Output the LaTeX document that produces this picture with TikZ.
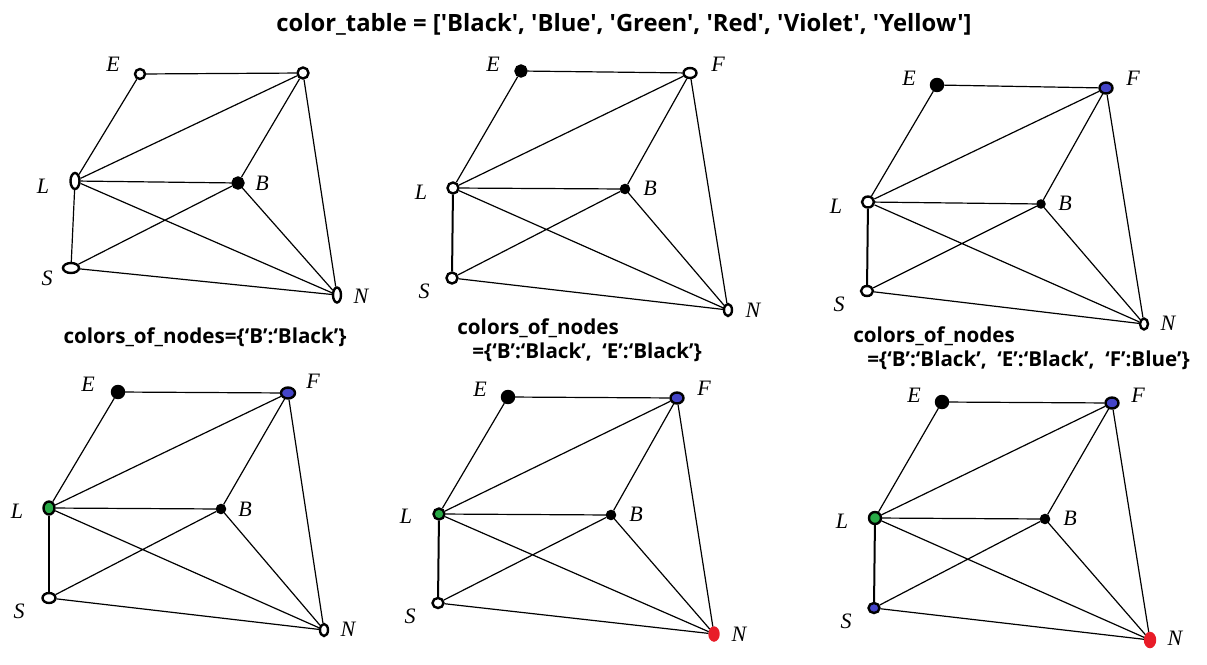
\documentclass[tikz,border=0pt]{standalone}
\usepackage{fontspec}
\newfontfamily\capfont{Open Sans}[Ligatures=TeXOff]
\newfontfamily\lblfont{Liberation Serif}
\usepackage{tikz}
\usetikzlibrary{shapes.geometric}
\definecolor{vblue}{RGB}{68,68,200}
\definecolor{vgreen}{RGB}{40,170,70}
\definecolor{vred}{RGB}{232,28,40}
\tikzset{vtx/.style={ellipse,draw,line width=1.2pt,inner sep=0pt,fill=white},
	sz/.style 2 args={minimum width=#1pt,minimum height=#2pt},
	lbl/.style={font=\lblfont\itshape\fontsize{11}{11}\selectfont},
	captxt/.style={font=\capfont\bfseries\fontsize{10.3}{12}\selectfont,inner sep=0pt}}
\begin{document}
\begin{tikzpicture}[x=0.5pt,y=-0.5pt]
\useasboundingbox (0,0) rectangle (1207,665);

\node (title) at (624,24)[captxt,font=\capfont\bfseries\fontsize{11.9}{13}\selectfont] {color\_table = ['Black', 'Blue', 'Green', 'Red', 'Violet', 'Yellow']};

% graph 1
\node (e1) at (140,74)[vtx,sz={5}{5}] {};
\node (f1) at (303,73)[vtx,sz={5.5}{5.5}] {};
\node (l1) at (75,181)[vtx,sz={4.5}{8}] {};
\node (b1) at (238,183)[vtx,fill=black,sz={5.5}{5.5}] {};
\node (s1) at (71,268)[vtx,sz={8}{5}] {};
\node (n1) at (337,295)[vtx,sz={4}{7.5}] {};
\node (le1) at (113,64)[lbl] {E};
\node (ll1) at (43,186)[lbl] {L};
\node (lb1) at (262,183)[lbl] {B};
\node (ls1) at (47,278)[lbl] {S};
\node (ln1) at (361,296)[lbl] {N};

% graph 2
\node (e2) at (521,71)[vtx,fill=black,sz={5.5}{5.5}] {};
\node (f2) at (690,73)[vtx,sz={6.5}{5}] {};
\node (l2) at (453,188)[vtx,sz={5.5}{5.5}] {};
\node (b2) at (625,189)[vtx,fill=black,sz={4}{4}] {};
\node (s2) at (452,278)[vtx,sz={5.5}{5.5}] {};
\node (n2) at (728,310)[vtx,sz={4}{6}] {};
\node (le2) at (493,64)[lbl] {E};
\node (lf2) at (718,64)[lbl] {F};
\node (ll2) at (421,192)[lbl] {L};
\node (lb2) at (650,188)[lbl] {B};
\node (ls2) at (424,291)[lbl] {S};
\node (ln2) at (753,310)[lbl] {N};

% graph 3
\node (e3) at (937,85)[vtx,fill=black,sz={6}{6}] {};
\node (f3) at (1106,88)[vtx,fill=vblue,sz={6.5}{5.5}] {};
\node (l3) at (868,202)[vtx,sz={6}{5.5}] {};
\node (b3) at (1041,204)[vtx,fill=black,sz={3.5}{3.5}] {};
\node (s3) at (867,291)[vtx,sz={6}{5}] {};
\node (n3) at (1144,324)[vtx,sz={4}{5.5}] {};
\node (le3) at (909,78)[lbl] {E};
\node (lf3) at (1133,78)[lbl] {F};
\node (ll3) at (836,206)[lbl] {L};
\node (lb3) at (1065,203)[lbl] {B};
\node (ls3) at (839,304)[lbl] {S};
\node (ln3) at (1168,323)[lbl] {N};

% graph 4
\node (e4) at (118,392)[vtx,fill=black,sz={6}{6}] {};
\node (f4) at (288,393)[vtx,fill=vblue,sz={7}{5.5}] {};
\node (l4) at (49,508)[vtx,fill=vgreen,sz={5.5}{6.5}] {};
\node (b4) at (221,509)[vtx,fill=black,sz={4}{4}] {};
\node (s4) at (49,598)[vtx,sz={6.5}{5}] {};
\node (n4) at (324,630)[vtx,sz={4}{6}] {};
\node (le4) at (88,384)[lbl] {E};
\node (lf4) at (313,381)[lbl] {F};
\node (ll4) at (17,511)[lbl] {L};
\node (lb4) at (245,509)[lbl] {B};
\node (ls4) at (19,611)[lbl] {S};
\node (ln4) at (348,629)[lbl] {N};

% graph 5
\node (e5) at (508,397)[vtx,fill=black,sz={6}{6}] {};
\node (f5) at (677,398)[vtx,fill=vblue,sz={6.5}{5.5}] {};
\node (l5) at (439,514)[vtx,fill=vgreen,sz={5.5}{5.5}] {};
\node (b5) at (611,515)[vtx,fill=black,sz={4}{4}] {};
\node (s5) at (438,603)[vtx,sz={5.5}{5}] {};
\node (n5) at (714,634)[vtx,fill=vred,draw=vred,sz={4.5}{6.5}] {};
\node (le5) at (480,389)[lbl] {E};
\node (lf5) at (704,388)[lbl] {F};
\node (ll5) at (406,516)[lbl] {L};
\node (lb5) at (636,514)[lbl] {B};
\node (ls5) at (410,616)[lbl] {S};
\node (ln5) at (739,634)[lbl] {N};

% graph 6
\node (e6) at (942,402)[vtx,fill=black,sz={6}{6}] {};
\node (f6) at (1112,403)[vtx,fill=vblue,sz={6.5}{5.5}] {};
\node (l6) at (875,518)[vtx,fill=vgreen,sz={6}{6}] {};
\node (b6) at (1045,519)[vtx,fill=black,sz={4}{4}] {};
\node (s6) at (874,608)[vtx,fill=vblue,sz={5.5}{5}] {};
\node (n6) at (1150,640)[vtx,fill=vred,draw=vred,sz={5}{7}] {};
\node (le6) at (914,395)[lbl] {E};
\node (lf6) at (1138,395)[lbl] {F};
\node (ll6) at (842,521)[lbl] {L};
\node (lb6) at (1070,518)[lbl] {B};
\node (ls6) at (846,621)[lbl] {S};
\node (ln6) at (1175,638)[lbl] {N};

\foreach \g in {1,...,6}
	\draw[line width=0.6pt] (e\g) -- (f\g) (e\g) -- (l\g) (l\g) -- (f\g) (f\g) -- (b\g)
		(f\g) -- (n\g) (l\g) -- (b\g) (l\g) -- (n\g)
		(s\g) -- (b\g) (s\g) -- (n\g) (b\g) -- (n\g);
\draw[line width=0.6pt] (l1) -- (s1);
\foreach \g in {2,...,6}
	\draw[line width=1pt] (l\g) -- (s\g);

% captions
\node (cap1) at (205,337)[captxt] {colors\_of\_nodes=\{‘B’:‘Black’\}};
\node (cap2a) at (457,328)[captxt,anchor=west] {colors\_of\_nodes};
\node (cap2b) at (472,352)[captxt,anchor=west] {=\{‘B’:‘Black’,\ \ ‘E’:‘Black’\}};
\node (cap3a) at (853,336)[captxt,anchor=west] {colors\_of\_nodes};
\node (cap3b) at (867,360)[captxt,anchor=west] {=\{‘B’:‘Black’,\ \ ‘E’:‘Black’,\ \ ‘F’:Blue’\}};
\end{tikzpicture}
\end{document}
